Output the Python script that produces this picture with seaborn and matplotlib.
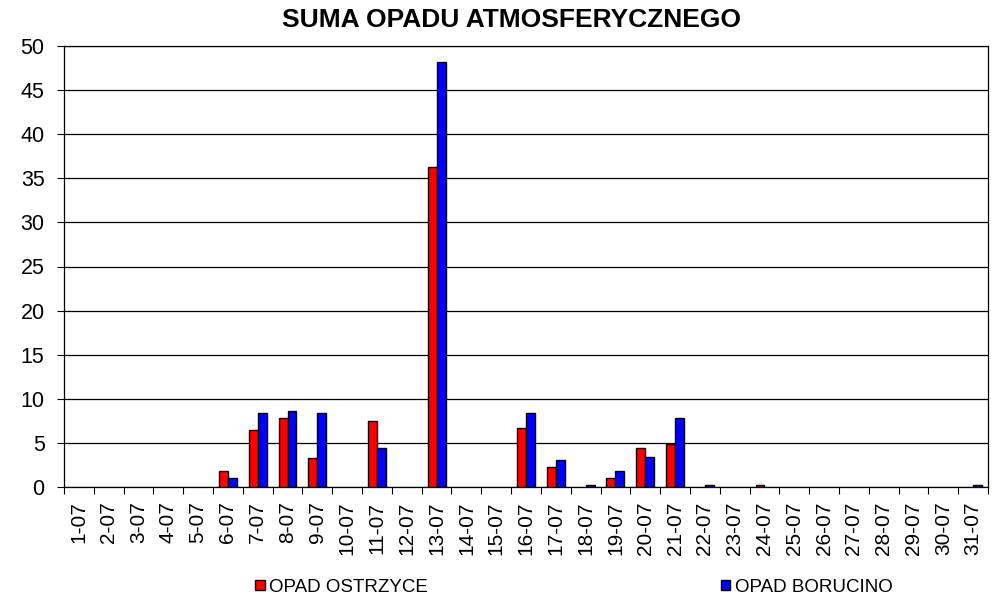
import pandas as pd
import matplotlib
matplotlib.use("Agg")
import matplotlib.pyplot as plt
import matplotlib.patches as mpatches
from matplotlib.ticker import FixedLocator
import seaborn as sns

# dane: suma opadu (mm) w lipcu
dni = ["1-07", "2-07", "3-07", "4-07", "5-07", "6-07", "7-07", "8-07", "9-07", "10-07",
       "11-07", "12-07", "13-07", "14-07", "15-07", "16-07", "17-07", "18-07", "19-07", "20-07",
       "21-07", "22-07", "23-07", "24-07", "25-07", "26-07", "27-07", "28-07", "29-07", "30-07",
       "31-07"]
opad_ostrzyce = [0, 0, 0, 0, 0, 1.8, 6.5, 7.8, 3.3, 0,
                 7.5, 0, 36.3, 0, 0, 6.7, 2.3, 0, 1.0, 4.4,
                 4.9, 0, 0, 0.2, 0, 0, 0, 0, 0, 0,
                 0]
opad_borucino = [0, 0, 0, 0, 0, 1.0, 8.4, 8.6, 8.4, 0,
                 4.4, 0, 48.2, 0, 0, 8.4, 3.1, 0.2, 1.8, 3.4,
                 7.8, 0.2, 0, 0, 0, 0, 0, 0, 0, 0,
                 0.2]
stacje = ["OPAD OSTRZYCE", "OPAD BORUCINO"]
kolory = ["#FF0000", "#0000FF"]

df = pd.DataFrame({
    "dzien": dni * 2,
    "opad": opad_ostrzyce + opad_borucino,
    "stacja": [stacje[0]] * len(dni) + [stacje[1]] * len(dni),
})

sns.set_style("white")
plt.rcParams["font.family"] = ["Liberation Sans", "DejaVu Sans"]
plt.rcParams["text.color"] = "black"
plt.rcParams["xtick.color"] = "black"
plt.rcParams["ytick.color"] = "black"

fig = plt.figure(figsize=(9.94, 6.01), dpi=100)
ax = fig.add_axes([64 / 994, 1 - 487 / 601, (988 - 64) / 994, (487 - 46) / 601])

sns.barplot(data=df, x="dzien", y="opad", hue="stacja", order=dni, hue_order=stacje,
            palette=kolory, saturation=1, width=0.6, edgecolor="black", linewidth=1.0,
            legend=False, ax=ax, zorder=3)
# slupki o zerowej wysokosci nie sa rysowane
for p in ax.patches:
    if p.get_height() == 0:
        p.set_visible(False)

ax.set_xlim(-0.5, len(dni) - 0.5)
ax.set_ylim(0, 50)
ax.set_yticks(range(0, 51, 5))
ax.yaxis.grid(True, color="black", linewidth=0.9, zorder=0)
ax.set_axisbelow(True)
for s in ax.spines.values():
    s.set_color("black")
    s.set_linewidth(0.9)

ax.set_xlabel("")
ax.set_ylabel("")
ax.tick_params(axis="y", which="major", left=True, length=5, width=0.8, color="black",
               labelsize=15.5, pad=9)
ax.tick_params(axis="x", which="major", bottom=False, labelsize=15, pad=7, labelrotation=90)
ax.xaxis.set_minor_locator(FixedLocator([i - 0.5 for i in range(len(dni) + 1)]))
ax.tick_params(axis="x", which="minor", bottom=True, length=5, width=0.8, color="black")

fig.text(511 / 994, 1 - 20 / 601, "SUMA OPADU ATMOSFERYCZNEGO", ha="center", va="center",
         fontsize=19, fontweight="bold", color="black")

uchwyty = [mpatches.Patch(facecolor=k, edgecolor="black", linewidth=1.0, label=s)
           for k, s in zip(kolory, stacje)]
fig.legend(handles=uchwyty, loc="center", bbox_to_anchor=(574 / 994, 1 - 587 / 601), ncol=2,
           frameon=False, fontsize=13.5, handlelength=0.5, handleheight=0.5,
           handletextpad=0.25, columnspacing=15.6)

fig.savefig("out.png", dpi=100)
